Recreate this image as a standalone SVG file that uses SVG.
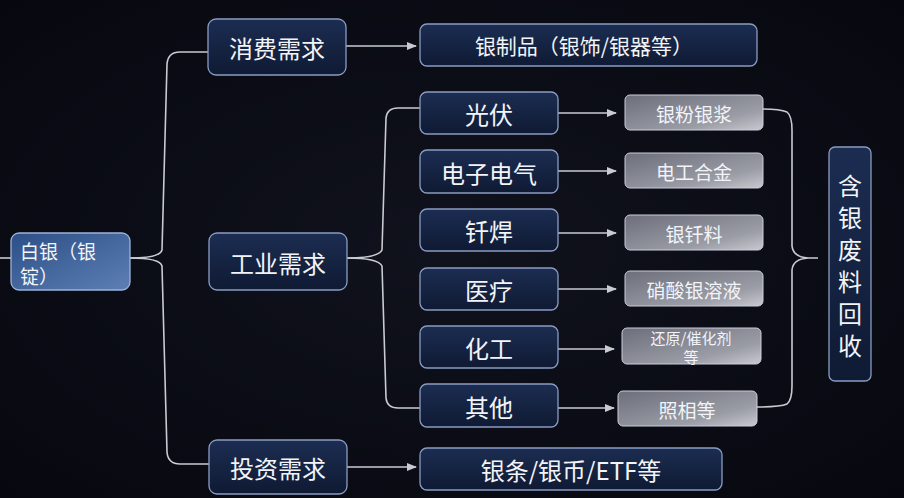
<svg xmlns="http://www.w3.org/2000/svg" width="904" height="498" viewBox="0 0 904 498">
<style>
.n{fill:url(#gn);stroke:#8a9cc4;stroke-width:1.3}
.g{fill:url(#gg);stroke:#ccd;stroke-width:1}
.b{fill:url(#gb);stroke:#9fb2d8;stroke-width:1.3}
text{font-family:"Noto Sans CJK SC","Noto Sans",sans-serif;fill:#f2f4f8;text-anchor:middle;dominant-baseline:central}
.t{font-size:24px}.s{font-size:19px}.m{font-size:21px}.x{font-size:15px}
.c{fill:none;stroke:#c8cbd2;stroke-width:1.6}
</style>
<defs>
<linearGradient id="gn" x1="0" y1="0" x2="0" y2="1"><stop offset="0" stop-color="#1c2d52"/><stop offset="1" stop-color="#0f1a33"/></linearGradient>
<linearGradient id="gg" x1="0" y1="0" x2="1" y2="1"><stop offset="0" stop-color="#6c6f7a"/><stop offset="0.7" stop-color="#9a9ca6"/><stop offset="1" stop-color="#c8c9d0"/></linearGradient>
<linearGradient id="gb" x1="0" y1="0" x2="1" y2="1"><stop offset="0" stop-color="#2b4f86"/><stop offset="1" stop-color="#5d7fb5"/></linearGradient>
<marker id="a" markerWidth="10" markerHeight="10" refX="9" refY="5" orient="auto" markerUnits="userSpaceOnUse"><path d="M0,1 L10,5 L0,9z" fill="#c8cbd2"/></marker>
<radialGradient id="bg" cx="0.5" cy="0.5" r="0.7"><stop offset="0" stop-color="#10121d"/><stop offset="1" stop-color="#07080f"/></radialGradient>
</defs>
<rect width="904" height="498" fill="url(#bg)"/>
<g id="connectors">
<path class="c" d="M0,258 H11"/>
<path class="c" d="M130,258 Q160,258 162,250 L167,64 Q168,52 180,52 H208"/>
<path class="c" d="M130,258 Q160,258 162,266 L167,452 Q168,464 180,464 H209"/>
<path class="c" d="M347,258 Q378,258 382,250 L386,118 Q387,108 398,108 H420"/>
<path class="c" d="M347,258 Q378,258 382,266 L386,398 Q387,408 398,408 H420"/>
<path class="c" marker-end="url(#a)" d="M346,46 H416"/>
<path class="c" marker-end="url(#a)" d="M558,113 H616"/>
<path class="c" marker-end="url(#a)" d="M558,171 H616"/>
<path class="c" marker-end="url(#a)" d="M558,233 H616"/>
<path class="c" marker-end="url(#a)" d="M558,289 H616"/>
<path class="c" marker-end="url(#a)" d="M558,349 H614"/>
<path class="c" marker-end="url(#a)" d="M558,408 H614"/>
<path class="c" marker-end="url(#a)" d="M347,467 H416"/>
<path class="c" d="M763,109 Q780,109 787,112 Q792,116 792,130 V246 Q793,257 808,258 H818 M757,407 Q780,407 787,404 Q792,400 792,386 V270 Q793,259 808,258"/>
</g>
<g id="n-silver"><rect class="b" x="11" y="233" width="119" height="57" rx="8"/><text class="s" x="20" y="250" style="text-anchor:start">白银（银</text><text class="s" x="20" y="275" style="text-anchor:start">锭）</text></g>
<g id="n-consume"><rect class="n" x="208" y="19" width="138" height="56" rx="8"/><text class="t" x="277" y="47">消费需求</text></g>
<g id="n-industry"><rect class="n" x="209" y="233" width="138" height="57" rx="8"/><text class="t" x="278" y="262">工业需求</text></g>
<g id="n-invest"><rect class="n" x="209" y="440" width="138" height="54" rx="8"/><text class="t" x="278" y="467">投资需求</text></g>
<g id="n-silverware"><rect class="n" x="420" y="24" width="337" height="42" rx="7"/><text class="m" x="584" y="45">银制品（银饰/银器等）</text></g>
<g id="n-pv"><rect class="n" x="420" y="92" width="138" height="42" rx="7"/><text class="t" x="489" y="113">光伏</text></g>
<g id="n-elec"><rect class="n" x="420" y="150" width="138" height="43" rx="7"/><text class="t" x="489" y="172">电子电气</text></g>
<g id="n-solder"><rect class="n" x="420" y="209" width="138" height="42" rx="7"/><text class="t" x="489" y="230">钎焊</text></g>
<g id="n-med"><rect class="n" x="420" y="268" width="138" height="42" rx="7"/><text class="t" x="489" y="289">医疗</text></g>
<g id="n-chem"><rect class="n" x="420" y="326" width="138" height="42" rx="7"/><text class="t" x="489" y="347">化工</text></g>
<g id="n-other"><rect class="n" x="420" y="384" width="138" height="43" rx="7"/><text class="t" x="489" y="406">其他</text></g>
<g id="g-paste"><rect class="g" x="625" y="95" width="138" height="35" rx="5"/><text class="s" x="694" y="113">银粉银浆</text></g>
<g id="g-alloy"><rect class="g" x="625" y="153" width="138" height="35" rx="5"/><text class="s" x="694" y="171">电工合金</text></g>
<g id="g-solder"><rect class="g" x="625" y="215" width="138" height="35" rx="5"/><text class="s" x="694" y="233">银钎料</text></g>
<g id="g-nitrate"><rect class="g" x="625" y="271" width="138" height="35" rx="5"/><text class="s" x="694" y="289">硝酸银溶液</text></g>
<g id="g-cat"><rect class="g" x="622" y="328" width="139" height="36" rx="5"/><text class="x" x="691" y="337">还原/催化剂</text><text class="x" x="691" y="356">等</text></g>
<g id="g-photo"><rect class="g" x="618" y="391" width="139" height="35" rx="5"/><text class="s" x="687" y="409">照相等</text></g>
<g id="n-recycle"><rect class="n" x="829" y="147" width="42" height="234" rx="6"/>
<text class="t" x="850" y="184">含</text><text class="t" x="850" y="216">银</text><text class="t" x="850" y="248">废</text><text class="t" x="850" y="280">料</text><text class="t" x="850" y="312">回</text><text class="t" x="850" y="344">收</text></g>
<g id="n-bar"><rect class="n" x="420" y="448" width="302" height="42" rx="7"/><text class="t" x="571" y="469">银条/银币/ETF等</text></g>
</svg>
